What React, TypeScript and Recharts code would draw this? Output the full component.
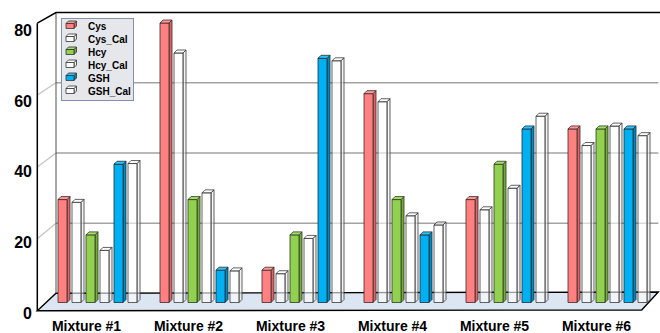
import { BarChart, Bar, XAxis, YAxis, CartesianGrid, Legend } from "recharts";

const mixtures = ["Mixture #1", "Mixture #2", "Mixture #3", "Mixture #4", "Mixture #5", "Mixture #6"];
const cys = [30, 80, 10, 60, 30, 50];
const cysCal = [29.2, 71.5, 9.0, 57.7, 27.1, 45.3];
const hcy = [20, 30, 20, 30, 40, 50];
const hcyCal = [15.6, 31.9, 19.0, 25.4, 33.2, 50.8];
const gsh = [40, 10, 70, 20, 50, 50];
const gshCal = [40.2, 9.8, 69.3, 22.8, 53.6, 48.1];
const yTicks = [0, 20, 40, 60, 80];

type Series = {
  key: string;
  name: string;
  values: number[];
  face: string;
  side: string;
  cap: string;
  stroke: string;
  opacity: number;
};

const series: Series[] = [
  { key: "cys", name: "Cys", values: cys, face: "#FF8080", side: "#D86666", cap: "#FF9A9A", stroke: "#3c2a2a", opacity: 1 },
  { key: "cysCal", name: "Cys_Cal", values: cysCal, face: "#FFFFFF", side: "#EDEDED", cap: "#FFFFFF", stroke: "#3a3a3a", opacity: 0.6 },
  { key: "hcy", name: "Hcy", values: hcy, face: "#92D050", side: "#74A93C", cap: "#A6DC6C", stroke: "#2e3a22", opacity: 1 },
  { key: "hcyCal", name: "Hcy_Cal", values: hcyCal, face: "#FFFFFF", side: "#EDEDED", cap: "#FFFFFF", stroke: "#3a3a3a", opacity: 0.6 },
  { key: "gsh", name: "GSH", values: gsh, face: "#00B0F0", side: "#0088BE", cap: "#33C2F5", stroke: "#1d2f3a", opacity: 1 },
  { key: "gshCal", name: "GSH_Cal", values: gshCal, face: "#FFFFFF", side: "#EDEDED", cap: "#FFFFFF", stroke: "#3a3a3a", opacity: 0.6 },
];

const data = mixtures.map((name, i) => {
  const row: Record<string, string | number> = { name };
  series.forEach((s) => {
    row[s.key] = s.values[i];
  });
  return row;
});

const FONT = "Arial, 'Liberation Sans', Helvetica, sans-serif";
const WIDTH = 660;
const HEIGHT = 333;
const TOP = 20;
const X_AXIS_H = 30.5;
const PLOT_BOTTOM = HEIGHT - X_AXIS_H;
const DEPTH = 3;

// the bars stand half way into the floor; these map a y on that plane
// onto the back wall and onto the front edge of the box
const toBack = (y: number) => 0.9936 * y - 7.26;
const toFront = (y: number) => 1.0177 * y + 2.85;
const FRONT_X = 37.3;
const BACK_X = 56;
const BACK_RIGHT = 658.3;
const FRONT_RIGHT = 641.7;

const GridLine = (props: any) => {
  const { y1, index } = props;
  const by = toBack(y1);
  const fy = toFront(y1);
  if (index === 0) {
    // floor
    const pts = `${BACK_X},${by} ${BACK_RIGHT},${by - 1.3} ${FRONT_RIGHT},${fy - 0.7} ${FRONT_X},${fy}`;
    return <polygon points={pts} fill="#DCE6F2" stroke="#000" strokeWidth={1.4} strokeLinejoin="miter" />;
  }
  if (index === yTicks.length - 1) {
    const bottomBack = toBack(PLOT_BOTTOM);
    const bottomFront = toFront(PLOT_BOTTOM);
    return (
      <g>
        <line x1={BACK_X} y1={by} x2={BACK_X} y2={bottomBack} stroke="#505050" strokeWidth={1} />
        <polyline points={`${FRONT_X},${fy} ${BACK_X},${by} ${WIDTH},${by}`} fill="none" stroke="#000" strokeWidth={1.5} />
        <line x1={FRONT_X} y1={fy} x2={FRONT_X} y2={bottomFront} stroke="#000" strokeWidth={1.5} />
      </g>
    );
  }
  return (
    <g>
      <line x1={FRONT_X} y1={fy} x2={BACK_X} y2={by} stroke="#C4C4C4" strokeWidth={1.3} />
      <line x1={BACK_X} y1={by} x2={BACK_RIGHT} y2={by} stroke="#A3A3A3" strokeWidth={1.5} />
    </g>
  );
};

const Column3D = (props: any) => {
  const { x, y, width, height, s } = props;
  if (height == null || width == null) return null;
  const w = width;
  const bottom = y + height;
  const d = DEPTH;
  const front = `${x},${y + d} ${x + w},${y + d} ${x + w},${bottom} ${x},${bottom}`;
  const side = `${x + w},${y + d} ${x + w + d},${y} ${x + w + d},${bottom - d} ${x + w},${bottom}`;
  const cap = `${x},${y + d} ${x + d},${y} ${x + w + d},${y} ${x + w},${y + d}`;
  return (
    <g stroke={s.stroke} strokeWidth={0.8} strokeLinejoin="round">
      <polygon points={side} fill={s.side} fillOpacity={s.opacity} />
      <polygon points={front} fill={s.face} fillOpacity={s.opacity} />
      <polygon points={cap} fill={s.cap} fillOpacity={s.opacity} />
    </g>
  );
};

const MixtureTick = ({ x, y, payload }: any) => (
  <text x={x - 10.5} y={y + 28} textAnchor="middle" fontSize={14} fontWeight="bold" fontFamily={FONT} fill="#000">
    {payload.value}
  </text>
);

const ValueTick = ({ x, y, payload }: any) => (
  <text x={x} y={y + 16} textAnchor="end" fontSize={16} fontWeight="bold" fontFamily={FONT} fill="#000">
    {payload.value}
  </text>
);

// legend keeps the series order (Cys, Cys_Cal, Hcy, ...)
const LegendBox = () => (
  <div
    style={{
      width: 71,
      height: 81,
      background: "#E6E7EA",
      border: "1px solid #8391AD",
      boxSizing: "content-box",
    }}
  >
    <svg width={71} height={81}>
      {series.map((s, i) => {
        const cy = 7 + i * 13;
        const x = 4;
        const w = 8;
        const h = 5;
        const d = 2.5;
        const top = cy - h / 2;
        return (
          <g key={s.key}>
            <g stroke="#333" strokeWidth={0.8} strokeLinejoin="round">
              <polygon points={`${x + w},${top} ${x + w + d},${top - d} ${x + w + d},${top + h - d} ${x + w},${top + h}`} fill={s.side} />
              <polygon points={`${x},${top} ${x + d},${top - d} ${x + w + d},${top - d} ${x + w},${top}`} fill={s.cap} />
              <rect x={x} y={top} width={w} height={h} fill={s.face} />
            </g>
            <text x={26} y={cy + 3.6} fontSize={10} fontWeight="bold" fontFamily={FONT} fill="#000">
              {s.name}
            </text>
          </g>
        );
      })}
    </svg>
  </div>
);

export default function App() {
  return (
    <div style={{ position: "absolute", left: 0, top: 0, width: WIDTH, height: HEIGHT, background: "#fff" }}>
      <BarChart
        width={WIDTH}
        height={HEIGHT}
        data={data}
        margin={{ top: TOP, right: 2, bottom: 0, left: 0 }}
        barSize={9}
        barGap={5}
      >
        <CartesianGrid vertical={false} horizontal={(p: any) => <GridLine {...p} />} syncWithTicks yAxisId="v" />
        <XAxis
          dataKey="name"
          height={X_AXIS_H}
          axisLine={false}
          tickLine={false}
          tickSize={0}
          tickMargin={0}
          interval={0}
          tick={<MixtureTick />}
        />
        <YAxis
          yAxisId="v"
          domain={[0, 80]}
          ticks={yTicks}
          interval={0}
          width={46}
          axisLine={false}
          tickLine={false}
          tickSize={0}
          tickMargin={14}
          tick={<ValueTick />}
        />
        <Legend
          layout="vertical"
          align="center"
          verticalAlign="middle"
          wrapperStyle={{ left: 61, top: 18, width: "auto", height: "auto" }}
          content={<LegendBox />}
        />
        {series.map((s) => (
          <Bar
            key={s.key}
            yAxisId="v"
            dataKey={s.key}
            name={s.name}
            fill={s.face}
            isAnimationActive={false}
            shape={(p: any) => <Column3D {...p} s={s} />}
          />
        ))}
      </BarChart>
    </div>
  );
}
